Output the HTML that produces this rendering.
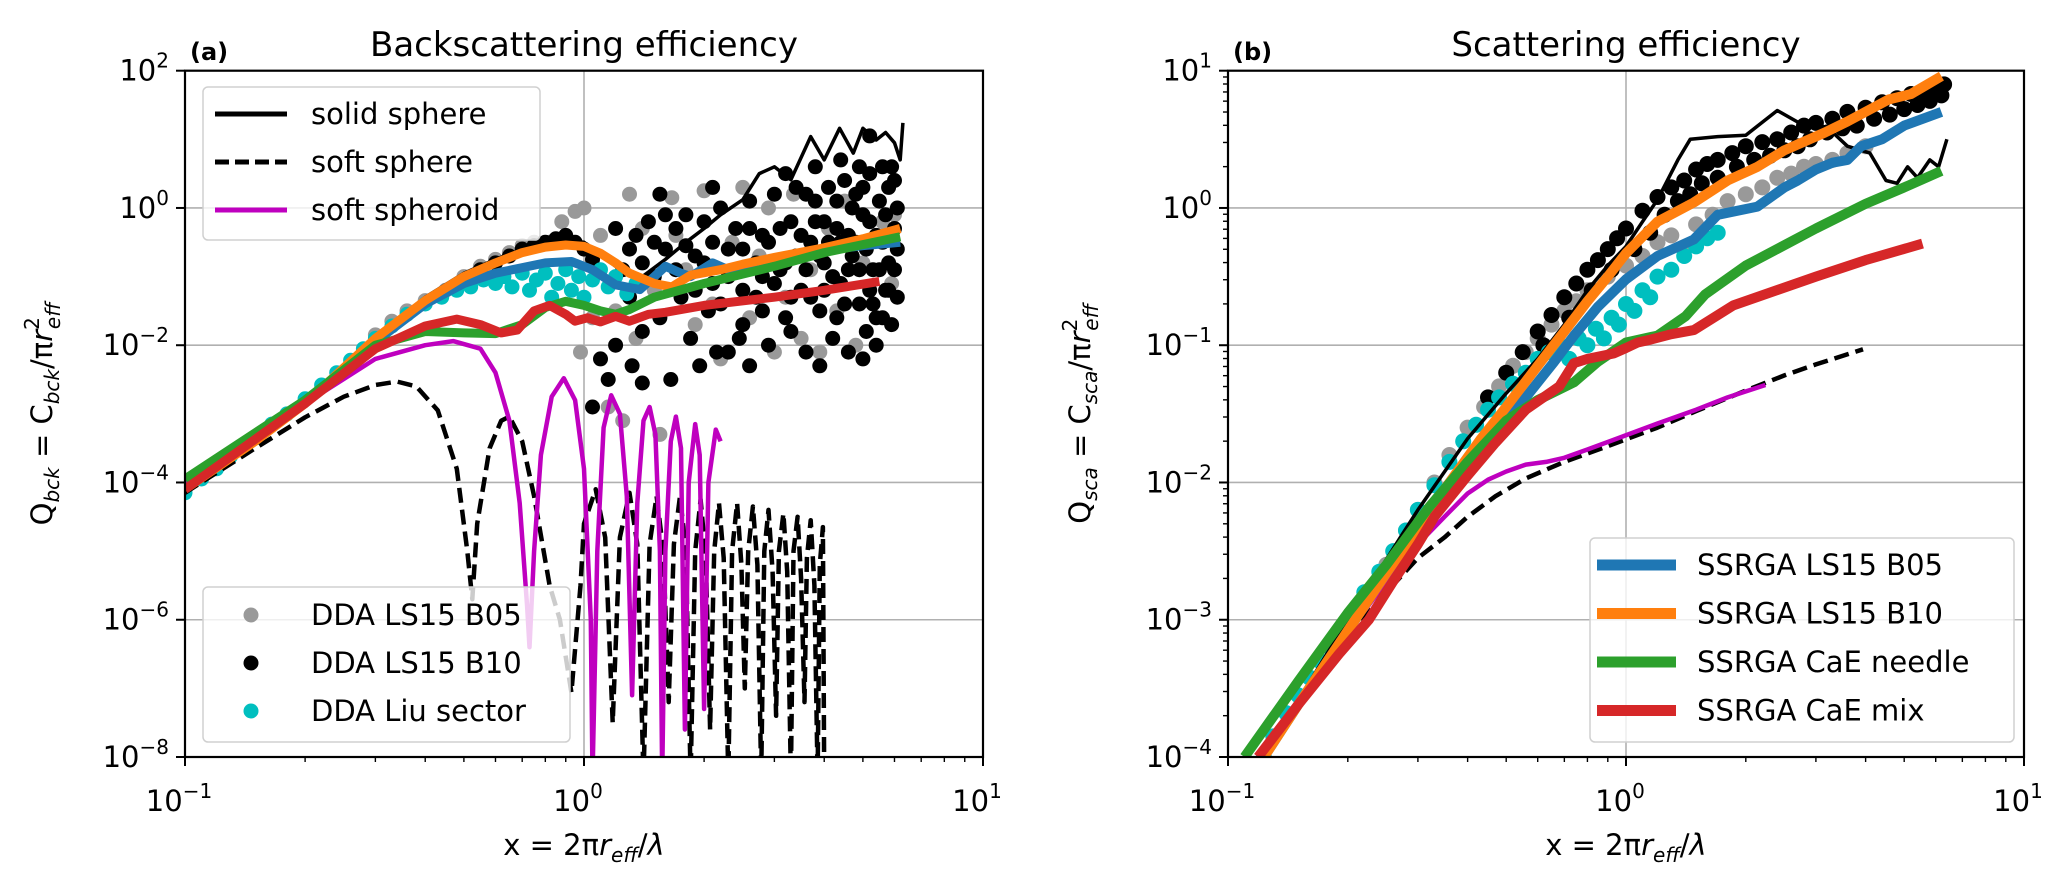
<!DOCTYPE html>
<html><head><meta charset="utf-8"><style>
html,body{margin:0;padding:0;background:#fff;}
svg{display:block;font-family:"DejaVu Sans","Liberation Sans",sans-serif;}
</style></head><body>
<svg id="fig" width="2067" height="887" viewBox="0 0 2067 887" xmlns="http://www.w3.org/2000/svg">
<defs>
<clipPath id="clipA"><rect x="185" y="70.7" width="798" height="686.3"/></clipPath>
<clipPath id="clipB"><rect x="1228" y="70.7" width="796" height="686.3"/></clipPath>
</defs>
<g id="gA"></g>
<g id="gB"></g>
</svg>
<script>
// ===== Panel (a) data: [x, log10(Q_bck)] =====
const aSolidSphere=[[0.1,-4.1],[0.2,-2.8],[0.3,-1.88],[0.4,-1.3],[0.5,-0.95],[0.6,-0.75],[0.7,-0.6],[0.8,-0.52],[0.9,-0.48],[1.0,-0.5],[1.2,-0.85],[1.4,-1.0],[1.6,-0.75],[1.8,-0.5],[2.0,-0.3],[2.2,-0.1],[2.5,0.12],[2.75,0.5],[3.0,0.6],[3.3,0.41],[3.7,1.04],[4.0,0.7],[4.37,1.16],[4.73,0.8],[5.0,1.16],[5.4,0.99],[5.7,1.1],[6.0,0.95],[6.2,0.7],[6.3,1.24]];
const aSoftSphere=[[0.1,-4.15],[0.15,-3.5],[0.2,-3.05],[0.25,-2.75],[0.3,-2.58],[0.34,-2.53],[0.38,-2.6],[0.43,-2.95],[0.48,-3.8],[0.51,-5.0],[0.525,-5.7],[0.54,-4.6],[0.58,-3.5],[0.62,-3.1],[0.65,-3.04],[0.7,-3.4],[0.75,-4.2],[0.82,-5.5],[0.87,-6.0],[0.93,-7.06],[0.98,-5.5],[1.0,-4.6],[1.07,-4.1],[1.13,-4.8],[1.18,-7.5],[1.23,-4.8],[1.3,-4.15],[1.36,-4.9],[1.41,-8.3],[1.46,-4.9],[1.52,-4.2],[1.58,-5],[1.63,-7.2],[1.68,-4.9],[1.74,-4.2],[1.8,-5],[1.85,-8.3],[1.9,-5],[1.96,-4.25],[2.02,-5.1],[2.07,-7.6],[2.12,-5],[2.18,-4.3],[2.24,-5.1],[2.3,-8.3],[2.35,-5],[2.42,-4.3],[2.48,-5.2],[2.53,-7.0],[2.58,-5],[2.65,-4.35],[2.72,-5.2],[2.78,-8.3],[2.83,-5],[2.9,-4.4],[2.97,-5.3],[3.03,-7.4],[3.08,-5],[3.16,-4.45],[3.23,-5.3],[3.3,-8.3],[3.35,-5],[3.43,-4.5],[3.5,-5.4],[3.57,-7.2],[3.62,-5.1],[3.7,-4.55],[3.78,-5.5],[3.85,-8.3],[3.9,-5.2],[3.97,-4.65],[4.0,-8.3]];
const aSoftSpheroid=[[0.1,-4.0],[0.15,-3.35],[0.2,-2.85],[0.3,-2.2],[0.4,-2.0],[0.47,-1.94],[0.55,-2.05],[0.6,-2.4],[0.65,-3.1],[0.69,-4.3],[0.72,-5.8],[0.73,-6.4],[0.75,-5.0],[0.78,-3.6],[0.83,-2.75],[0.89,-2.48],[0.95,-2.8],[1.0,-3.8],[1.04,-6],[1.05,-8.3],[1.08,-5],[1.12,-3.2],[1.17,-2.73],[1.23,-3.0],[1.28,-4.2],[1.32,-7.1],[1.36,-4.3],[1.41,-3.1],[1.46,-2.9],[1.51,-3.3],[1.55,-5],[1.57,-8.3],[1.6,-5],[1.65,-3.4],[1.7,-3.04],[1.75,-3.5],[1.79,-7.6],[1.83,-4],[1.9,-3.15],[1.95,-3.6],[2.0,-7.3],[2.05,-4],[2.14,-3.23],[2.2,-3.4]];
const aB05=[[0.1,-4.1],[0.15,-3.35],[0.2,-2.85],[0.3,-1.95],[0.4,-1.4],[0.5,-1.1],[0.6,-0.95],[0.7,-0.87],[0.8,-0.8],[0.93,-0.78],[1.05,-0.9],[1.2,-1.12],[1.38,-1.19],[1.5,-1.0],[1.6,-0.85],[1.75,-0.95],[1.85,-1.0],[2.1,-0.8],[2.3,-0.9],[2.5,-0.85],[3.0,-0.75],[3.5,-0.7],[4.0,-0.62],[5.0,-0.55],[6.2,-0.5]];
const aB10=[[0.1,-4.1],[0.15,-3.4],[0.2,-2.85],[0.3,-1.9],[0.4,-1.35],[0.5,-1.0],[0.6,-0.8],[0.7,-0.65],[0.8,-0.57],[0.9,-0.54],[1.0,-0.56],[1.1,-0.66],[1.2,-0.8],[1.3,-0.95],[1.5,-1.1],[1.66,-1.15],[1.85,-0.98],[2.2,-0.9],[2.5,-0.82],[3.0,-0.72],[4.0,-0.58],[5.0,-0.45],[6.2,-0.3]];
const aNeedle=[[0.1,-3.95],[0.2,-2.8],[0.3,-2.0],[0.4,-1.8],[0.5,-1.82],[0.6,-1.83],[0.7,-1.7],[0.8,-1.45],[0.9,-1.36],[1.0,-1.42],[1.1,-1.5],[1.2,-1.55],[1.3,-1.48],[1.5,-1.3],[2.0,-1.1],[3.0,-0.85],[4.0,-0.65],[6.2,-0.42]];
const aMix=[[0.1,-4.1],[0.2,-2.85],[0.3,-2.05],[0.4,-1.72],[0.48,-1.62],[0.55,-1.7],[0.62,-1.82],[0.68,-1.78],[0.75,-1.5],[0.82,-1.42],[0.9,-1.55],[0.95,-1.65],[1.02,-1.6],[1.1,-1.66],[1.2,-1.58],[1.3,-1.65],[1.45,-1.55],[1.6,-1.52],[2.0,-1.42],[3.0,-1.3],[4.0,-1.2],[5.5,-1.07]];
const aDdaB05=[[0.3,-1.85],[0.33,-1.65],[0.36,-1.5],[0.4,-1.35],[0.45,-1.2],[0.5,-1.0],[0.55,-0.85],[0.6,-0.75],[0.65,-0.65],[0.7,-0.55],[0.75,-0.5],[0.82,-0.5],[0.88,-0.2],[0.95,-0.05],[0.98,-2.1],[1.0,0.0],[1.05,-1.6],[1.1,-0.4],[1.15,-2.9],[1.2,-1.5],[1.25,-3.1],[1.3,0.2],[1.35,-1.9],[1.4,-0.3],[1.5,-1.2],[1.55,-3.3],[1.66,0.15],[1.7,-0.4],[1.8,-0.9],[1.9,-1.7],[2.0,0.25],[2.1,-1.4],[2.2,-2.2],[2.35,-0.5],[2.5,0.3],[2.6,-1.6],[2.75,-0.7],[2.9,0.0],[3.0,-2.1],[3.2,-1.3],[3.35,0.2],[3.5,-1.9],[3.7,-0.9],[3.9,-2.1],[4.1,-0.3],[4.3,-1.5],[4.5,0.1],[4.8,-2.0],[5.0,-0.8],[5.3,-1.4],[5.6,-0.2],[5.9,-1.1],[6.0,-0.1]];
const aDdaB10=[[0.55,-0.9],[0.6,-0.8],[0.65,-0.7],[0.7,-0.6],[0.75,-0.55],[0.8,-0.5],[0.85,-0.45],[0.9,-0.4],[0.95,-0.5],[1.0,-0.6],[1.05,-0.75],[1.1,-2.2],[1.15,-2.5],[1.2,-2.0],[1.25,-0.9],[1.3,-0.6],[1.32,-2.3],[1.35,-0.4],[1.4,-1.8],[1.45,-0.2],[1.5,-1.0],[1.55,-1.6],[1.6,-0.6],[1.65,-2.5],[1.7,-0.3],[1.75,-1.3],[1.8,-0.1],[1.85,-1.9],[1.9,-0.7],[1.95,-2.3],[2.0,-0.2],[2.05,-1.5],[2.1,-0.5],[2.15,-2.1],[2.2,0.0],[2.3,-1.0],[2.4,-0.3],[2.45,-1.9],[2.5,-0.6],[2.6,0.1],[2.7,-1.3],[2.8,-0.4],[2.9,-2.0],[3.0,0.2],[3.1,-0.9],[3.2,-1.6],[3.3,-0.2],[3.4,0.3],[3.5,-1.2],[3.6,-2.1],[3.7,-0.5],[3.8,0.1],[3.9,-1.5],[4.0,-0.8],[4.1,0.3],[4.2,-1.9],[4.3,-0.3],[4.4,-1.1],[4.5,0.4],[4.6,-2.1],[4.7,-0.7],[4.8,0.2],[4.9,-1.4],[5.0,-0.1],[5.1,-1.8],[5.2,0.5],[5.3,-0.9],[5.4,-1.6],[5.5,0.1],[5.6,-0.5],[5.7,-1.2],[5.8,0.3],[5.9,-1.7],[6.0,-0.3],[6.1,0.0],[1.6,-0.1],[2.2,-1.4],[2.8,-1.0],[3.4,-0.7],[4.0,-0.2],[4.6,-0.4],[5.2,-1.2],[5.8,-0.8],[5.2,1.05],[5.6,0.6],[4.4,0.7],[3.8,0.6],[2.1,0.3],[1.55,0.2],[5.9,0.6],[3.2,0.5],[2.6,-2.3],[3.9,-2.3],[5.0,-2.2],[1.4,-2.55],[1.05,-2.9],[2.3,-2.1],
[1.4,-0.8],[1.5,-0.5],[1.7,-0.9],[1.8,-0.55],[1.9,-1.2],[2.0,-0.8],[2.1,-1.1],[2.3,-0.6],[2.4,-0.9],[2.5,-1.2],[2.6,-0.3],[2.7,-0.8],[2.8,-1.5],[2.9,-0.5],[3.0,-1.1],[3.1,-0.3],[3.2,-0.8],[3.3,-1.3],[3.5,-0.4],[3.6,-0.9],[3.7,-1.3],[3.8,-0.2],[3.9,-0.7],[4.0,-1.2],[4.1,-0.5],[4.2,-1.0],[4.3,0.1],[4.4,-0.5],[4.5,-1.4],[4.6,-0.9],[4.7,0.0],[4.8,-0.5],[4.9,-0.9],[5.0,0.3],[5.1,-0.6],[5.2,-0.2],[5.3,-1.4],[5.4,-0.4],[5.5,-0.9],[5.6,-1.6],[5.7,-0.1],[5.8,-1.2],[5.9,-0.4],[6.0,-0.9],[6.1,-1.3],[6.0,0.4],[6.1,-0.6],[2.5,-1.7],[3.3,-1.8],[4.3,-1.6],[5.4,-2.0],[1.3,-1.3],[1.2,-0.3],[3.6,0.2],[4.9,0.6]];
const aDdaLiu=[[0.1,-4.15],[0.11,-3.95],[0.12,-3.8],[0.13,-3.62],[0.14,-3.5],[0.15,-3.35],[0.165,-3.15],[0.18,-3.0],[0.2,-2.78],[0.22,-2.58],[0.24,-2.4],[0.26,-2.22],[0.28,-2.05],[0.3,-1.9],[0.33,-1.72],[0.36,-1.55],[0.4,-1.4],[0.44,-1.3],[0.48,-1.2],[0.52,-1.15],[0.56,-1.05],[0.6,-1.1],[0.63,-1.0],[0.66,-1.15],[0.7,-0.95],[0.73,-1.2],[0.76,-1.05],[0.8,-0.95],[0.83,-1.3],[0.86,-1.1],[0.9,-0.9],[0.93,-1.2],[0.97,-1.0],[1.0,-1.3],[1.05,-1.05],[1.1,-0.9],[1.15,-1.15],[1.2,-1.0],[1.28,-1.25],[1.35,-1.1]];
// ===== Panel (b) data: [x, log10(Q_sca)] =====
const bSolidSphere=[[0.12,-4.05],[0.2,-3.0],[0.3,-2.2],[0.4,-1.68],[0.5,-1.35],[0.6,-1.1],[0.7,-0.85],[0.8,-0.6],[0.9,-0.42],[1.0,-0.28],[1.1,-0.1],[1.2,0.06],[1.35,0.35],[1.45,0.5],[1.7,0.52],[2.0,0.53],[2.4,0.71],[2.8,0.6],[3.2,0.59],[3.6,0.45],[4.1,0.4],[4.5,0.2],[4.8,0.18],[5.1,0.3],[5.4,0.22],[5.8,0.35],[6.1,0.3],[6.4,0.5]];
const bSoftSphere=[[0.12,-4.05],[0.15,-3.62],[0.2,-3.12],[0.25,-2.8],[0.3,-2.55],[0.35,-2.4],[0.4,-2.25],[0.47,-2.1],[0.56,-1.97],[0.7,-1.85],[0.93,-1.72],[1.2,-1.6],[1.5,-1.48],[2.0,-1.33],[2.5,-1.22],[3.0,-1.14],[3.94,-1.03]];
const bSoftSpheroid=[[0.12,-4.05],[0.15,-3.62],[0.2,-3.1],[0.25,-2.72],[0.3,-2.45],[0.35,-2.25],[0.4,-2.08],[0.45,-1.98],[0.5,-1.92],[0.56,-1.87],[0.63,-1.85],[0.7,-1.82],[0.8,-1.76],[0.93,-1.69],[1.2,-1.57],[1.5,-1.47],[1.8,-1.38],[2.24,-1.29]];
const bB05=[[0.12,-4.05],[0.15,-3.62],[0.2,-3.08],[0.25,-2.66],[0.3,-2.33],[0.35,-2.05],[0.43,-1.72],[0.5,-1.5],[0.56,-1.38],[0.66,-1.12],[0.74,-0.93],[0.85,-0.72],[1.0,-0.52],[1.2,-0.35],[1.48,-0.23],[1.7,-0.05],[2.14,0.01],[2.5,0.15],[2.7,0.2],[3.0,0.28],[3.3,0.33],[3.6,0.35],[3.9,0.45],[4.4,0.5],[5.0,0.6],[6.2,0.7]];
const bB10=[[0.12,-4.05],[0.15,-3.62],[0.2,-3.08],[0.25,-2.66],[0.3,-2.33],[0.35,-2.05],[0.43,-1.69],[0.5,-1.45],[0.6,-1.15],[0.7,-0.9],[0.8,-0.68],[0.9,-0.5],[1.0,-0.33],[1.2,-0.1],[1.48,0.04],[1.8,0.2],[2.14,0.3],[2.5,0.42],[3.16,0.55],[3.6,0.63],[4.57,0.79],[5.2,0.83],[6.2,0.96]];
const bNeedle=[[0.11,-4.0],[0.15,-3.45],[0.2,-2.95],[0.25,-2.6],[0.32,-2.18],[0.4,-1.85],[0.5,-1.55],[0.6,-1.4],[0.74,-1.27],[0.85,-1.12],[1.0,-0.98],[1.2,-0.93],[1.41,-0.79],[1.58,-0.63],[2.0,-0.42],[3.0,-0.15],[4.0,0.03],[5.0,0.15],[6.2,0.27]];
const bMix=[[0.119,-4.0],[0.15,-3.62],[0.19,-3.25],[0.226,-3.0],[0.26,-2.72],[0.3,-2.45],[0.33,-2.25],[0.4,-1.95],[0.47,-1.71],[0.56,-1.47],[0.68,-1.3],[0.74,-1.13],[0.8,-1.1],[0.93,-1.06],[1.0,-1.02],[1.07,-0.98],[1.15,-0.96],[1.3,-0.92],[1.48,-0.89],[1.86,-0.71],[3.0,-0.5],[4.0,-0.38],[5.56,-0.26]];
const bDdaB05=[[0.25,-2.6],[0.28,-2.35],[0.3,-2.2],[0.33,-2.0],[0.36,-1.8],[0.4,-1.6],[0.44,-1.45],[0.48,-1.3],[0.52,-1.15],[0.56,-1.05],[0.6,-0.95],[0.65,-0.85],[0.7,-0.75],[0.75,-0.68],[0.8,-0.6],[0.9,-0.5],[1.0,-0.42],[1.1,-0.35],[1.2,-0.25],[1.3,-0.2],[1.4,-0.3],[1.5,-0.12],[1.65,-0.05],[1.8,0.05],[2.0,0.1],[2.2,0.15],[2.4,0.22],[2.6,0.25],[2.8,0.3],[3.0,0.32],[3.3,0.35],[3.6,0.4],[4.0,0.45]];
const bDdaB10=[[0.45,-1.38],[0.5,-1.2],[0.55,-1.05],[0.6,-0.9],[0.65,-0.78],[0.7,-0.65],[0.75,-0.55],[0.8,-0.45],[0.85,-0.38],[0.9,-0.3],[0.95,-0.22],[1.0,-0.15],[1.1,-0.02],[1.2,0.08],[1.3,0.15],[1.4,0.2],[1.5,0.28],[1.6,0.32],[1.7,0.35],[1.85,0.4],[2.0,0.45],[2.2,0.48],[2.4,0.5],[2.6,0.55],[2.8,0.6],[3.0,0.62],[3.3,0.65],[3.6,0.7],[4.0,0.73],[4.4,0.77],[4.8,0.8],[5.2,0.83],[5.6,0.85],[6.0,0.88],[6.3,0.9],
[0.62,-1.0],[0.72,-0.8],[0.82,-0.6],[0.92,-0.45],[1.05,-0.3],[1.15,-0.18],[1.25,-0.05],[1.35,0.05],[1.45,0.1],[1.55,0.18],[1.7,0.22],[1.9,0.3],[2.1,0.35],[2.3,0.38],[2.5,0.42],[2.7,0.45],[2.9,0.5],[3.2,0.55],[3.5,0.58],[3.8,0.6],[4.2,0.65],[4.6,0.68],[5.0,0.72],[5.4,0.75],[5.8,0.78],[6.2,0.82]];
const bDdaLiu=[[0.123,-4.0],[0.13,-3.85],[0.14,-3.68],[0.15,-3.55],[0.16,-3.42],[0.17,-3.3],[0.18,-3.2],[0.19,-3.12],[0.2,-3.0],[0.22,-2.8],[0.24,-2.65],[0.26,-2.5],[0.28,-2.35],[0.3,-2.2],[0.33,-2.02],[0.36,-1.85],[0.39,-1.7],[0.42,-1.58],[0.45,-1.47],[0.48,-1.38],[0.52,-1.28],[0.56,-1.2],[0.6,-1.1],[0.64,-1.05],[0.68,-1.0],[0.72,-1.1],[0.76,-0.95],[0.8,-1.0],[0.84,-0.88],[0.88,-0.95],[0.92,-0.8],[0.96,-0.85],[1.0,-0.7],[1.05,-0.75],[1.1,-0.6],[1.15,-0.65],[1.2,-0.5],[1.3,-0.45],[1.4,-0.35],[1.5,-0.28],[1.6,-0.22],[1.7,-0.18]];
// tick labels
const aYTickExps=[2,0,-2,-4,-6,-8];
const bYTickExps=[1,0,-1,-2,-3,-4];
const xTickExps=[-1,0,1];

const NS="http://www.w3.org/2000/svg";
function mk(tag,attrs,parent){const e=document.createElementNS(NS,tag);for(const k in attrs)e.setAttribute(k,attrs[k]);if(parent)parent.appendChild(e);return e;}
function axis(left,right,top,bottom,ylo,yhi){
  return {left,right,top,bottom,ylo,yhi,
    px:x=>left+(Math.log10(x)+1)/2*(right-left),
    py:l=>bottom-(l-ylo)/(yhi-ylo)*(bottom-top)};
}
const A=axis(185,983,70.7,757,-8,2);
const B=axis(1228,2024,70.7,757,-4,1);
function sup(t){return String(t).replace('-','\u2212');}

function drawFrame(g,ax,yExps){
  for(const e of yExps){const y=ax.py(e);if(e!==ax.ylo&&e!==ax.yhi){
    const l=mk('line',{x1:ax.left,x2:ax.right,y1:y,y2:y,stroke:'#b0b0b0','stroke-width':1.6},g);
    }}
  const gx=ax.px(1);
  const gl=mk('line',{x1:gx,x2:gx,y1:ax.top,y2:ax.bottom,stroke:'#b0b0b0','stroke-width':1.6},g);
  
}
function drawAxes(g,ax,yExps,title,tag,ylabX,ylabSub,minorY){
  const fr=mk('rect',{x:ax.left,y:ax.top,width:ax.right-ax.left,height:ax.bottom-ax.top,fill:'none',stroke:'#000','stroke-width':2.2},g);
  
  for(const e of yExps){const y=ax.py(e);
    mk('line',{x1:ax.left-9,x2:ax.left,y1:y,y2:y,stroke:'#000','stroke-width':2},g);
    const t=mk('text',{x:ax.left-16,y:y+10,'text-anchor':'end','font-size':29},g);
    
    t.appendChild(document.createTextNode('10'));
    const s=mk('tspan',{dy:-13,'font-size':20},t);s.textContent=sup(e);
  }
  if(minorY){for(let e=ax.ylo;e<ax.yhi;e++)for(let m=2;m<10;m++){const y=ax.py(e+Math.log10(m));
    mk('line',{x1:ax.left-5,x2:ax.left,y1:y,y2:y,stroke:'#000','stroke-width':1.4},g);}}
  for(const e of xTickExps){const x=ax.px(Math.pow(10,e));
    mk('line',{x1:x,x2:x,y1:ax.bottom,y2:ax.bottom+9,stroke:'#000','stroke-width':2},g);
    const t=mk('text',{x:x-6,y:ax.bottom+54,'text-anchor':'middle','font-size':29},g);
    
    t.appendChild(document.createTextNode('10'));
    const s=mk('tspan',{dy:-13,'font-size':20},t);s.textContent=sup(e);
  }
  for(const e of [-1,0])for(let m=2;m<10;m++){const x=ax.px(m*Math.pow(10,e));
    mk('line',{x1:x,x2:x,y1:ax.bottom,y2:ax.bottom+5,stroke:'#000','stroke-width':1.4},g);}
  const cx=(ax.left+ax.right)/2;
  const ti=mk('text',{x:cx,y:56,'text-anchor':'middle','font-size':34},g);
  ti.textContent=title;
  const tg=mk('text',{x:ax.left+5,y:60,'font-size':24,'font-weight':'bold'},g);
  tg.textContent=tag;
  const xl=mk('text',{x:cx,y:855,'text-anchor':'middle','font-size':29},g);
  
  xl.appendChild(document.createTextNode('x = 2\u03C0'));
  let t1=mk('tspan',{'font-style':'italic'},xl);t1.textContent='r';
  let t2=mk('tspan',{'font-style':'italic','font-size':20,dy:7},xl);t2.textContent='eff';
  let t3=mk('tspan',{dy:-7},xl);t3.textContent='/';
  let t4=mk('tspan',{'font-style':'italic'},xl);t4.textContent='\u03BB';
  const cy=(ax.top+ax.bottom)/2;
  const yl=mk('text',{x:0,y:0,'text-anchor':'middle','font-size':29,transform:`translate(${ylabX},${cy}) rotate(-90)`},g);
  
  yl.appendChild(document.createTextNode('Q'));
  let a1=mk('tspan',{'font-style':'italic','font-size':20,dy:7},yl);a1.textContent=ylabSub;
  let a2=mk('tspan',{dy:-7},yl);a2.textContent=' = C';
  let a3=mk('tspan',{'font-style':'italic','font-size':20,dy:7},yl);a3.textContent=ylabSub;
  let a4=mk('tspan',{dy:-7},yl);a4.textContent='/\u03C0';
  let a5=mk('tspan',{'font-style':'italic'},yl);a5.textContent='r';
  let a6=mk('tspan',{'font-size':20,dy:-13},yl);a6.textContent='2';
  let a7=mk('tspan',{'font-style':'italic','font-size':20,dy:21,dx:-12},yl);a7.textContent='eff';
}
function line(g,ax,data,color,w,dash,name){
  const d=data.map((p,i)=>(i?'L':'M')+ax.px(p[0]).toFixed(1)+','+ax.py(p[1]).toFixed(1)).join('');
  const attrs={d:d,fill:'none',stroke:color,'stroke-width':w,'stroke-linejoin':'round'};
  if(dash)attrs['stroke-dasharray']=dash;
  const p=mk('path',attrs,g);
  
  
}
function dots(g,ax,data,color,r,name){
  const gg=mk('g',{},g);
  
  
  for(const p of data){const c=mk('circle',{cx:ax.px(p[0]).toFixed(1),cy:ax.py(p[1]).toFixed(1),r:r,fill:color},gg);
    
    }
}
const C={blue:'#1f77b4',orange:'#ff7f0e',green:'#2ca02c',red:'#d62728',mag:'#bf00bf',cyan:'#00bfbf',gray:'#999999'};

// ===== Panel A =====
const gA=document.getElementById('gA');
drawFrame(gA,A,aYTickExps);
const pa=mk('g',{'clip-path':'url(#clipA)'},gA);

dots(pa,A,aDdaB05,C.gray,7.5,'dda-ls15-b05');
dots(pa,A,aDdaB10,'#000',7.5,'dda-ls15-b10');
dots(pa,A,aDdaLiu,C.cyan,7.5,'dda-liu-sector');
line(pa,A,aSolidSphere,'#000',3.5,null,'solid-sphere-line');
line(pa,A,aSoftSphere,'#000',4.5,'15,7','soft-sphere-line');
line(pa,A,aSoftSpheroid,C.mag,4.5,null,'soft-spheroid-line');
line(pa,A,aB05,C.blue,9,null,'ssrga-ls15-b05-line');
line(pa,A,aB10,C.orange,9,null,'ssrga-ls15-b10-line');
line(pa,A,aNeedle,C.green,9,null,'ssrga-cae-needle-line');
line(pa,A,aMix,C.red,9,null,'ssrga-cae-mix-line');
drawAxes(gA,A,aYTickExps,'Backscattering efficiency','(a)',52,'bck',false);

(function(){
  const lg=mk('g',{},gA);
  mk('rect',{x:203,y:87,width:337,height:153,rx:5,fill:'#fff','fill-opacity':0.8,stroke:'#d0d0d0','stroke-width':1.5},lg);
  const items=[['solid sphere','#000',null],['soft sphere','#000','14,6'],['soft spheroid',C.mag,null]];
  items.forEach((it,i)=>{const y=114+i*48;
    const e=mk('g',{},lg);
    const a={x1:215,x2:287,y1:y,y2:y,stroke:it[1],'stroke-width':5};if(it[2])a['stroke-dasharray']=it[2];
    mk('line',a,e);const t=mk('text',{x:311,y:y+10,'font-size':29},e);t.textContent=it[0];});
})();
(function(){
  const lg=mk('g',{},gA);
  mk('rect',{x:203,y:587,width:367,height:155,rx:5,fill:'#fff','fill-opacity':0.8,stroke:'#d0d0d0','stroke-width':1.5},lg);
  const items=[['DDA LS15 B05',C.gray],['DDA LS15 B10','#000'],['DDA Liu sector',C.cyan]];
  items.forEach((it,i)=>{const y=615+i*48;
    const e=mk('g',{},lg);
    mk('circle',{cx:251,cy:y,r:7.5,fill:it[1]},e);const t=mk('text',{x:311,y:y+10,'font-size':29},e);t.textContent=it[0];});
})();

// ===== Panel B =====
const gB=document.getElementById('gB');
drawFrame(gB,B,bYTickExps);
const pb=mk('g',{'clip-path':'url(#clipB)'},gB);

dots(pb,B,bDdaB05,C.gray,8,'dda-ls15-b05');
dots(pb,B,bDdaB10,'#000',8,'dda-ls15-b10');
dots(pb,B,bDdaLiu,C.cyan,8,'dda-liu-sector');
line(pb,B,bSolidSphere,'#000',3.5,null,'solid-sphere-line');
line(pb,B,bSoftSphere,'#000',4.5,'15,7','soft-sphere-line');
line(pb,B,bSoftSpheroid,C.mag,4.5,null,'soft-spheroid-line');
line(pb,B,bB05,C.blue,10,null,'ssrga-ls15-b05-line');
line(pb,B,bB10,C.orange,10,null,'ssrga-ls15-b10-line');
line(pb,B,bNeedle,C.green,10,null,'ssrga-cae-needle-line');
line(pb,B,bMix,C.red,10,null,'ssrga-cae-mix-line');
drawAxes(gB,B,bYTickExps,'Scattering efficiency','(b)',1090,'sca',true);
(function(){
  const lg=mk('g',{},gB);
  mk('rect',{x:1590,y:538,width:424,height:204,rx:5,fill:'#fff','fill-opacity':0.8,stroke:'#d0d0d0','stroke-width':1.5},lg);
  const items=[['SSRGA LS15 B05',C.blue],['SSRGA LS15 B10',C.orange],['SSRGA CaE needle',C.green],['SSRGA CaE mix',C.red]];
  items.forEach((it,i)=>{const y=565+i*48.5;
    const e=mk('g',{},lg);
    mk('line',{x1:1597,x2:1676,y1:y,y2:y,stroke:it[1],'stroke-width':11},e);
    const t=mk('text',{x:1697,y:y+10,'font-size':29},e);t.textContent=it[0];});
})();
</script>
</body></html>
